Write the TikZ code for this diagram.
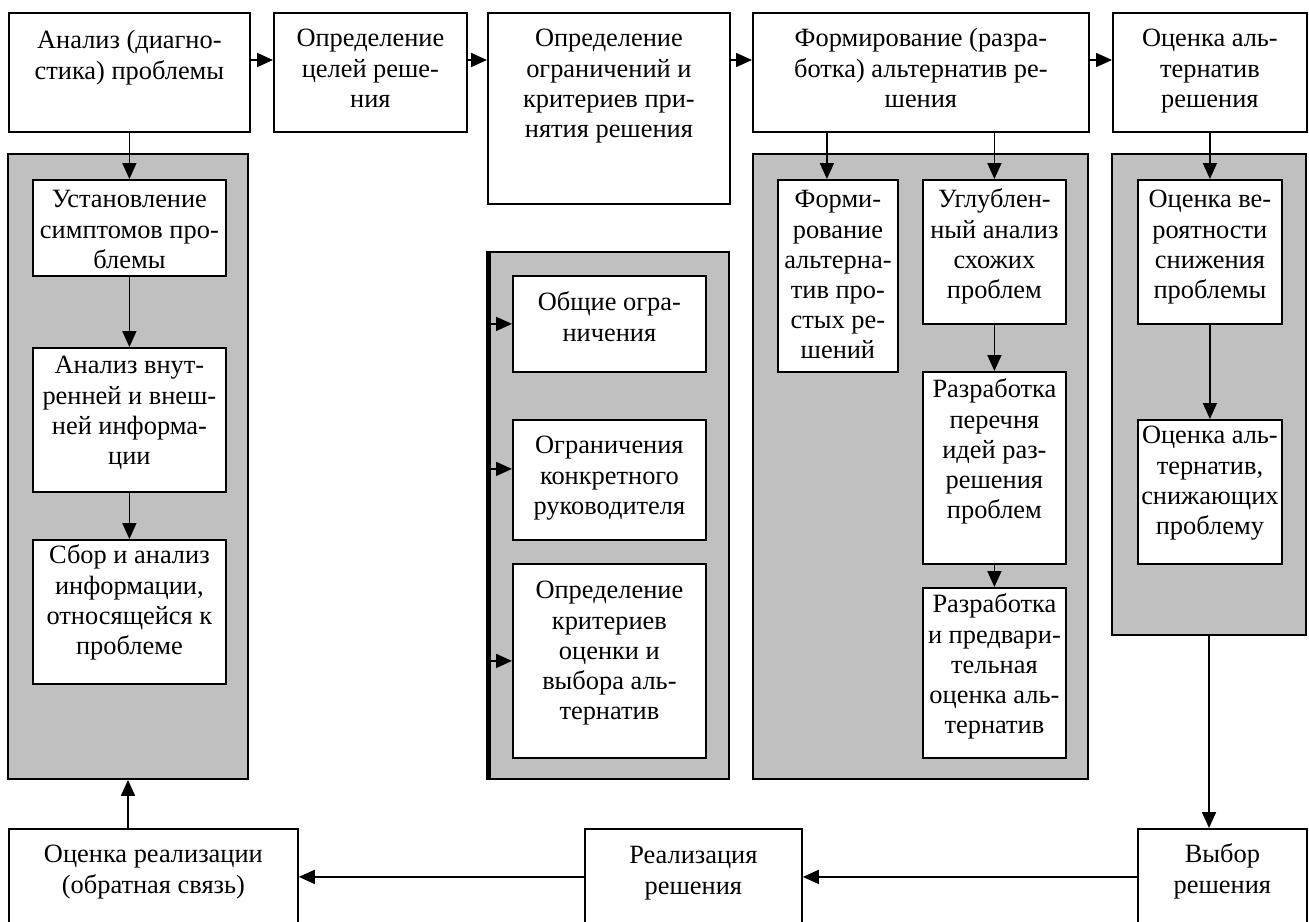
\documentclass[tikz,border=0pt]{standalone}
\usepackage{fontspec}
\setmainfont{Liberation Serif}
\usepackage{tikz}
\usetikzlibrary{calc,arrows.meta,positioning,fit}
\definecolor{panelgray}{RGB}{192,192,192}
\newlength{\px}
\setlength{\px}{0.5pt}
% #1 宽 #2 高 #3 首行基线 #4 文字
\newcommand{\bt}[4]{\parbox[c][#2\px][t]{#1\px}{\centering\rule{0pt}{#3\px}#4\par}}
\tikzset{
  blk/.style={draw, fill=white, line width=0.9pt, inner sep=0pt, anchor=north west,
    font=\fontsize{13.2}{15.1}\selectfont},
  panel/.style={draw, fill=panelgray, line width=0.9pt, inner sep=0pt},
  arr/.style={-{Triangle[length=8pt,width=7pt]}, line width=0.9pt},
}

\begin{document}
\begin{tikzpicture}[x=0.5pt,y=-0.5pt]
\useasboundingbox (0,0) rectangle (1309,921);
%灰色底框
\node[panel, fit={(8,154)(248,779)}] (p1) {};
\node[panel, fit={(489,252)(729,779)}] (p2) {};
\node[panel, fit={(753,154)(1088,779)}] (p3) {};
\node[panel, fit={(1112,154)(1306,635)}] (p4) {};
\draw[line width=2.5pt] (p2.north west) -- (p2.south west);

%第一行
\node[blk] (a1) at (8,12) {\bt{241}{119}{36}{Анализ (диагно-\\стика) проблемы}};
\node[blk] (a2) at (273,12) {\bt{193}{119}{34}{Определение\\целей реше-\\ния}};
\node[blk] (a3) at (487,12) {\bt{242}{191}{34}{Определение\\ограничений и\\критериев при-\\нятия решения}};
\node[blk] (a4) at (752,12) {\bt{336}{119}{34}{Формирование (разра-\\ботка) альтернатив ре-\\шения}};
\node[blk] (a5) at (1112,12) {\bt{194}{119}{34}{Оценка аль-\\тернатив\\решения}};

\node[blk] (u1) at (32,179) {\bt{193}{96}{28}{Установление\\симптомов про-\\блемы}};
\node[blk] (u2) at (32,347) {\bt{193}{144}{26}{Анализ внут-\\ренней и внеш-\\ней информа-\\ции}};
\node[blk] (u3) at (32,539) {\bt{193}{144}{24}{Сбор и анализ\\информации,\\относящейся к\\проблеме}};

\node[blk] (c1) at (512,275) {\bt{193}{96}{35}{Общие огра-\\ничения}};
\node[blk] (c2) at (512,419) {\bt{193}{120}{34}{Ограничения\\конкретного\\руководителя}};
\node[blk] (c3) at (512,563) {\bt{193}{194}{35}{Определение\\критериев\\оценки и\\выбора аль-\\тернатив}};

\node[blk] (f1) at (777,179) {\bt{120}{192}{28}{Форми-\\рование\\альтерна-\\тив про-\\стых ре-\\шений}};
\node[blk] (g1) at (922,179) {\bt{143}{144}{28}{Углублен-\\ный анализ\\схожих\\проблем}};
\node[blk] (g2) at (922,371) {\bt{143}{192}{26}{Разработка\\перечня\\идей раз-\\решения\\проблем}};
\node[blk] (g3) at (922,587) {\bt{143}{170}{25}{Разработка\\и предвари-\\тельная\\оценка аль-\\тернатив}};

\node[blk] (e1) at (1137,179) {\bt{144}{144}{28}{Оценка ве-\\роятности\\снижения\\проблемы}};
\node[blk] (e2) at (1137,419) {\bt{144}{144}{24}{Оценка аль-\\тернатив,\\снижающих\\проблему}};

%最下一行
\node[blk] (b1) at (8,828) {\bt{289}{96}{34}{Оценка реализации\\(обратная связь)}};
\node[blk] (b2) at (584,828) {\bt{217}{96}{35}{Реализация\\решения}};
\node[blk] (b3) at (1137,828) {\bt{169}{96}{34}{Выбор\\решения}};

%箭头
\coordinate (row1) at (0,60);
\draw[arr] (a1.east |- row1) -- (a2.west |- row1);
\draw[arr] (a2.east |- row1) -- (a3.west |- row1);
\draw[arr] (a3.east |- row1) -- (a4.west |- row1);
\draw[arr] (a4.east |- row1) -- (a5.west |- row1);

\draw[arr] (a1.south) -- (u1.north);
\draw[arr] (u1.south) -- (u2.north);
\draw[arr] (u2.south) -- (u3.north);

\coordinate (k2) at ([yshift=5.5pt]c2.west);
\draw[arr] (p2.west |- c1.west) -- (c1.west);
\draw[arr] (p2.west |- k2) -- (k2);
\draw[arr] (p2.west |- c3.west) -- (c3.west);

\coordinate (k3) at ([xshift=-5.5pt]f1.north);
\draw[arr] (k3 |- a4.south) -- (k3);
\draw[arr] (g1.north |- a4.south) -- (g1.north);
\draw[arr] (g1.south) -- (g2.north);
\draw[arr] (g2.south) -- (g3.north);

\draw[arr] (a5.south) -- (e1.north);
\draw[arr] (e1.south) -- (e2.north);
\draw[arr] (p4.south) -- (p4.south |- b3.north);

\draw[arr] (b3.west) -- (b2.east);
\draw[arr] (b2.west) -- (b1.east);
\draw[arr] (p1.south |- b1.north) -- (p1.south);
\end{tikzpicture}
\end{document}
